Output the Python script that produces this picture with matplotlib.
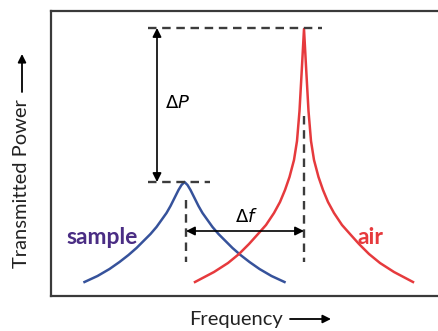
import matplotlib
matplotlib.use("Agg")
import matplotlib.pyplot as plt
import numpy as np

plt.rcParams['font.family'] = ['Lato', 'DejaVu Sans']

# resonance peaks, arbitrary units (frequency offset from peak, transmitted power)
sample_center = 133.5
sample_dx = [0, 3, 6, 10, 14, 18, 23, 28, 34, 41, 48, 56, 65, 75, 87, 100]
sample_power = [114, 111, 106, 98, 90, 83, 76, 69, 62, 55, 48, 41, 34, 27, 20, 14]

air_center = 253
air_dx = [0, 2, 4.5, 7, 10, 14.5, 19, 24, 30, 38, 46, 55, 65, 76, 90, 109]
air_power = [267, 230, 185, 155, 136, 119, 106, 94, 83, 71, 62, 52, 42, 33, 24, 14]

labels = {'sample': (51, 59), 'air': (319, 59)}


def mirror(dx, power):
    dx = np.array(dx, dtype=float)
    power = np.array(power, dtype=float)
    return np.r_[-dx[:0:-1], dx], np.r_[power[:0:-1], power]


fig = plt.figure(figsize=(4.38, 3.31), dpi=100)
ax = fig.add_axes([51 / 438, 35 / 331, 387 / 438, 285 / 331])
ax.set_xlim(0, 387)
ax.set_ylim(0, 285)
ax.set_xticks([])
ax.set_yticks([])
for side in ['left', 'top', 'bottom']:
    ax.spines[side].set_color('#3a3a3a')
    ax.spines[side].set_linewidth(1.6)
ax.spines['right'].set_visible(False)

blue = '#36529b'
red = '#e63a3d'
x, y = mirror(sample_dx, sample_power)
ax.plot(sample_center + x, y, color=blue, lw=1.8, solid_joinstyle='round')
x, y = mirror(air_dx, air_power)
ax.plot(air_center + x, y, color=red, lw=1.8, solid_joinstyle='round')

dash = dict(color='#3c3c3c', lw=1.7, dashes=(3.6, 2.4))
air_peak = max(air_power)
sample_peak = max(sample_power)
ax.plot([97, air_center + 18], [air_peak + 1] * 2, **dash)
ax.plot([97, sample_center + 25], [sample_peak] * 2, **dash)
ax.plot([sample_center + 1.5] * 2, [96, 34], **dash)
ax.plot([air_center] * 2, [180, 34], **dash)

arrow = dict(arrowstyle='<|-|>', color='black', lw=1.2, mutation_scale=13,
             shrinkA=0, shrinkB=0)
ax.annotate('', xy=(106, air_peak + 1), xytext=(106, sample_peak), arrowprops=arrow)
ax.annotate('', xy=(sample_center + 1.5, 65), xytext=(air_center, 65), arrowprops=arrow)

ax.text(114, 193, r'$\Delta P$', fontsize=13, ha='left', va='center')
ax.text(195, 80, r'$\Delta f$', fontsize=13, ha='center', va='center')

ax.text(*labels['sample'], 'sample', color='#4a2d84', fontsize=16.5,
        fontweight='bold', ha='center', va='center')
ax.text(*labels['air'], 'air', color=red, fontsize=16.5,
        fontweight='bold', ha='center', va='center')

# axis titles with arrows (figure pixel coordinates)
fig.text(22 / 438, 1 - 184 / 331, 'Transmitted Power', rotation=90, fontsize=14.5,
         ha='center', va='center', color='#222222')
fig.text(236 / 438, 1 - 320 / 331, 'Frequency', fontsize=14.5,
         ha='center', va='center', color='#222222')
head = dict(arrowstyle='-|>', color='black', lw=1.3, mutation_scale=12,
            shrinkA=0, shrinkB=0)
fig.add_artist(matplotlib.patches.FancyArrowPatch(
    (22 / 438, 1 - 92 / 331), (22 / 438, 1 - 54 / 331),
    transform=fig.transFigure, **head))
fig.add_artist(matplotlib.patches.FancyArrowPatch(
    (290 / 438, 1 - 319 / 331), (331 / 438, 1 - 319 / 331),
    transform=fig.transFigure, **head))

fig.savefig('out.png', dpi=100)
